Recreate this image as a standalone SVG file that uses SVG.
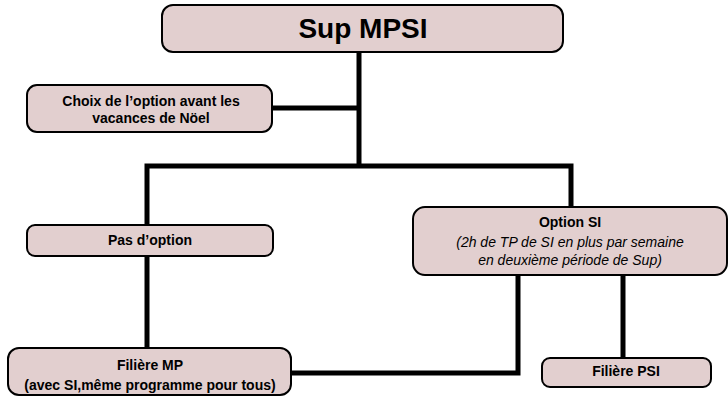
<svg xmlns="http://www.w3.org/2000/svg" width="728" height="397" viewBox="0 0 728 397">
<style>
.box{fill:#E2CFCF;stroke:#000;stroke-width:2}
.t{font-family:"Liberation Sans",Arial,sans-serif;font-size:14px;font-weight:bold;text-anchor:middle;fill:#000}
.i{font-family:"Liberation Sans",Arial,sans-serif;font-size:14px;font-style:italic;text-anchor:middle;fill:#000}
.c{fill:none;stroke:#000;stroke-width:5;stroke-linejoin:miter}
</style>
<rect width="728" height="397" fill="#fff"/>
<g id="connectors">
<path class="c" d="M359 52V166"/>
<path class="c" d="M272 108H359"/>
<path class="c" d="M147 225V166H571V207"/>
<path class="c" d="M147 256V348"/>
<path class="c" d="M291 373H518V275"/>
<path class="c" d="M623 275V358"/>
</g>
<g id="sup">
<rect class="box" x="162" y="5" width="401" height="47" rx="11"/>
<text class="t" x="363" y="38" style="font-size:28px">Sup MPSI</text>
</g>
<g id="choix">
<rect class="box" x="27" y="85" width="245" height="47" rx="10"/>
<text class="t" x="151" y="106">Choix de l’option avant les</text>
<text class="t" x="151" y="123">vacances de Nöel</text>
</g>
<g id="pas">
<rect class="box" x="27" y="225" width="246" height="31" rx="8"/>
<text class="t" x="150" y="245">Pas d’option</text>
</g>
<g id="optsi">
<rect class="box" x="413" y="207" width="314" height="68" rx="12"/>
<text class="t" x="570" y="227">Option SI</text>
<text class="i" x="570" y="247">(2h de TP de SI en plus par semaine</text>
<text class="i" x="570" y="265">en deuxième période de Sup)</text>
</g>
<g id="mp">
<rect class="box" x="8" y="348" width="283" height="47" rx="11"/>
<text class="t" x="150" y="370">Filière MP</text>
<text class="t" x="150" y="390">(avec SI,même programme pour tous)</text>
</g>
<g id="psi">
<rect class="box" x="542" y="358" width="169" height="29" rx="8"/>
<text class="t" x="626" y="376">Filière PSI</text>
</g>
</svg>
